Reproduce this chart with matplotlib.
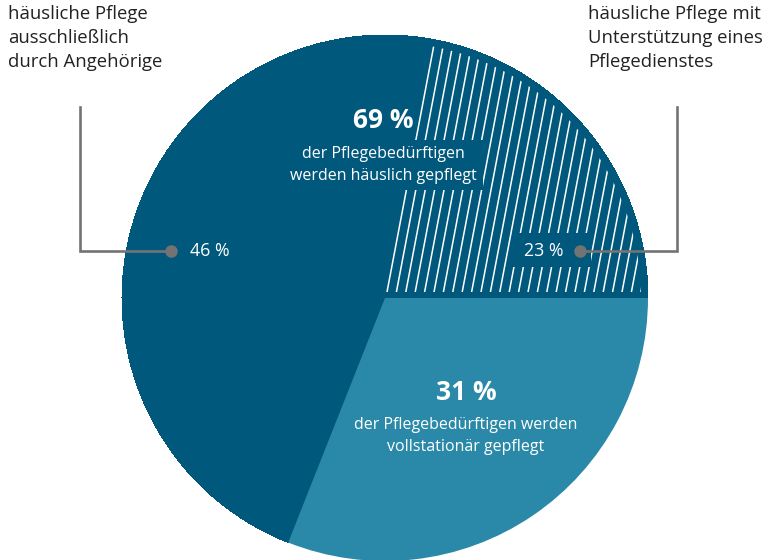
import numpy as np
import matplotlib
matplotlib.use("Agg")
import matplotlib.pyplot as plt
from matplotlib.patches import Polygon, Rectangle, Circle

# ---- data ----
shares = [23, 46, 31]  # Pflegedienst, Angehörige, vollstationär
share_labels = ["23 %", "46 %", "31 %"]
home_total = "69 %"
home_text = "der Pflegebedürftigen\nwerden häuslich gepflegt"
stat_text = "der Pflegebedürftigen werden\nvollstationär gepflegt"
left_note = "häusliche Pflege\nausschließlich\ndurch Angehörige"
right_note = "häusliche Pflege mit\nUnterstützung eines\nPflegedienstes"

DARK = "#00587c"
LIGHT = "#2a89a8"
GREY = "#737373"
W, H = 767, 560

plt.rcParams["font.family"] = ["Open Sans", "DejaVu Sans"]

fig = plt.figure(figsize=(W / 100, H / 100), dpi=100)
ax = fig.add_axes([0, 0, 1, 1])

def Y(y):
    return H - y

cx, cy, r = 385, Y(298), 263
ax.add_patch(Circle((cx, cy), r - 1, fc=DARK, ec="none", zorder=0))
wedges, _ = ax.pie(shares, colors=[DARK, DARK, LIGHT], startangle=0,
                   counterclock=True, center=(cx, cy), radius=r,
                   wedgeprops=dict(linewidth=0), frame=True)
wedges[0].set_antialiased(False)
wedges[1].set_antialiased(False)
ax.set_xlim(0, W)
ax.set_ylim(0, H)
ax.axis("off")

# hatch in the 23 % wedge
rin = r - 7
top = cy + 6
angs = np.linspace(np.arcsin(6 / rin), np.pi / 2, 100)
poly = [(cx - 2, top)] + [(cx + rin * np.cos(a), cy + rin * np.sin(a)) for a in angs]
clip = Polygon(poly, closed=True, transform=ax.transData, fc="none", ec="none")
ax.add_patch(clip)
slope = 0.19
for x0 in np.arange(387, 660, 9.4):
    ln, = ax.plot([x0, x0 + slope * 300], [top, top + 300], color="white",
                  lw=1.1, zorder=2, solid_capstyle="butt")
    ln.set_clip_path(clip)

# center texts
ax.text(383, Y(121), home_total, ha="center", va="center", color="white",
        fontsize=19, fontweight="bold", zorder=5)
ax.text(383, Y(165), home_text, ha="center", va="center", color="white",
        fontsize=11.5, linespacing=1.45, zorder=5,
        bbox=dict(boxstyle="square,pad=0.4", fc=DARK, ec="none"))
ax.text(466, Y(392), "31 %", ha="center", va="center", color="white",
        fontsize=19, fontweight="bold", zorder=5)
ax.text(466, Y(436), stat_text, ha="center", va="center", color="white",
        fontsize=11.5, linespacing=1.45, zorder=5)

# 23 % label with box
ax.add_patch(Rectangle((513, Y(267)), 78, 34, fc=DARK, ec="none", zorder=4))
ax.text(544, Y(251), share_labels[0], ha="center", va="center", color="white",
        fontsize=12.8, zorder=5)
ax.plot([580, 677, 677], [Y(251), Y(251), Y(107)], color=GREY, lw=1.9,
        zorder=6, solid_joinstyle="miter")
ax.plot([580], [Y(251)], "o", color=GREY, ms=8, zorder=7)

# 46 % label
ax.text(210, Y(251), share_labels[1], ha="center", va="center", color="white",
        fontsize=12.8, zorder=5)
ax.plot([171, 80, 80], [Y(251), Y(251), Y(107)], color=GREY, lw=1.9,
        zorder=6, solid_joinstyle="miter")
ax.plot([171], [Y(251)], "o", color=GREY, ms=8, zorder=7)

# notes
ax.text(8, Y(5), left_note, ha="left", va="top", color="#222222",
        fontsize=13.3, linespacing=1.42)
ax.text(588, Y(5), right_note, ha="left", va="top", color="#222222",
        fontsize=13.3, linespacing=1.42)

fig.savefig("out.png", dpi=100)
